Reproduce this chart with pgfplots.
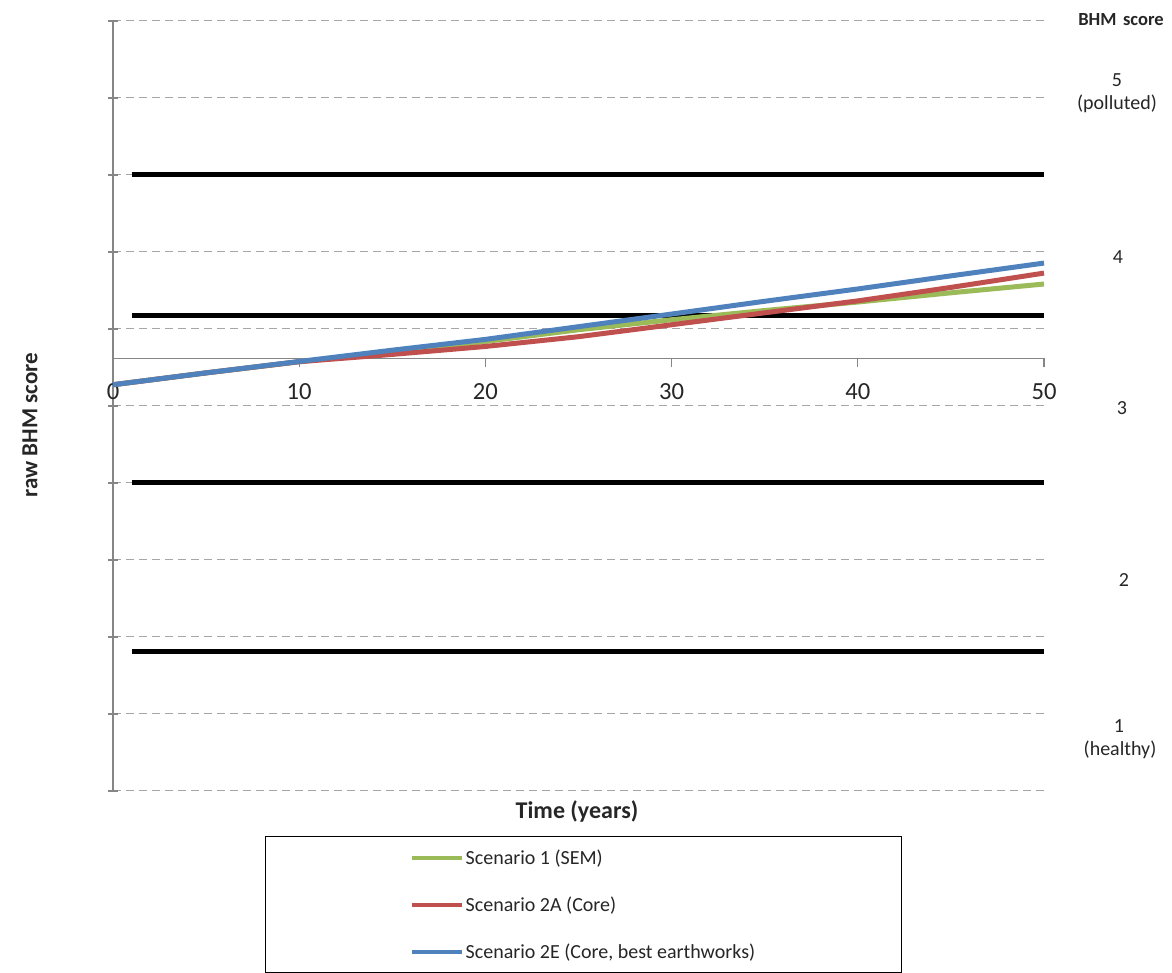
\documentclass[border=0pt]{standalone}
\usepackage{pgfplots}
\pgfplotsset{compat=1.18}
\usepackage{fontspec}
\setmainfont{Carlito}
\definecolor{sgreen}{HTML}{9BBB59}
\definecolor{sred}{HTML}{C0504D}
\definecolor{sblue}{HTML}{4F81BD}
\definecolor{axgray}{HTML}{868686}
\definecolor{gridgray}{HTML}{A6A6A6}
\definecolor{txt}{HTML}{262626}
\begin{document}
\begin{tikzpicture}
\useasboundingbox (-113pt,-182pt) rectangle (1059pt,791pt);
\begin{axis}[
  scale only axis, width=931pt, height=770pt,
  at={(0pt,0pt)}, anchor=south west,
  xmin=0, xmax=50, ymin=-5.62, ymax=4.38,
  axis x line=middle, axis y line=left,
  axis line style={draw=axgray, line width=1.3pt, -},
  xtick={0,10,20,30,40,50},
  ytick={-5.62,-4.62,-3.62,-2.62,-1.62,-0.62,0.38,1.38,2.38,3.38,4.38},
  yticklabels={},
  hide obscured x ticks=false,
  ymajorgrids,
  grid style={draw=gridgray, line width=1pt, dash pattern=on 8pt off 5pt},
  tick style={draw=axgray, line width=1.3pt},
  major tick length=9pt,
  xtick align=outside, ytick align=center,
  /pgf/number format/assume math mode=true,
  xticklabel style={font=\fontsize{24.6}{28}\selectfont, text=txt, yshift=-13pt},
  clip=false,
  legend style={at={(axis description cs:0.1633,-0.0584)}, anchor=north west,
    draw=black, line width=1.3pt, fill=white,
    inner xsep=144pt, inner ysep=11pt, row sep=27pt,
    font=\fontsize{20}{24}\selectfont, text=txt},
  legend cell align=left,
  legend image code/.code={\draw[#1, line width=4pt] (0pt,0pt) -- (50pt,0pt);},
]
\addplot[black, line width=5pt, forget plot] coordinates {(1,2.38) (50,2.38)};
\addplot[black, line width=5pt, forget plot] coordinates {(1,0.556) (50,0.556)};
\addplot[black, line width=5pt, forget plot] coordinates {(1,-1.62) (50,-1.62)};
\addplot[black, line width=5pt, forget plot] coordinates {(1,-3.81) (50,-3.81)};
\addplot[sgreen, line width=5pt] coordinates {
 (0,-0.344) (5,-0.19) (10,-0.045) (15,0.08) (20,0.218) (25,0.37) (30,0.50) (35,0.62) (40,0.73) (45,0.85) (50,0.964)};
\addlegendentry{Scenario 1 (SEM)}
\addplot[sred, line width=5pt] coordinates {
 (0,-0.344) (5,-0.19) (10,-0.045) (15,0.05) (20,0.153) (25,0.28) (30,0.435) (35,0.59) (40,0.745) (45,0.92) (50,1.106)};
\addlegendentry{Scenario 2A (Core)}
\addplot[sblue, line width=5pt] coordinates {
 (0,-0.344) (5,-0.19) (10,-0.042) (15,0.105) (20,0.245) (25,0.41) (30,0.574) (35,0.74) (40,0.90) (45,1.07) (50,1.236)};
\addlegendentry{Scenario 2E (Core, best earthworks)}
\end{axis}
\node[font=\fontsize{18.5}{22}\selectfont\bfseries, text=txt] at (1008pt,771pt) {BHM\hspace{0.35em}score};
\node[font=\fontsize{20}{24}\selectfont, text=txt] at (1004pt,711pt) {5};
\node[font=\fontsize{20}{24}\selectfont, text=txt] at (1004pt,687pt) {(polluted)};
\node[font=\fontsize{20}{24}\selectfont, text=txt] at (1005pt,534pt) {4};
\node[font=\fontsize{20}{24}\selectfont, text=txt] at (1009pt,383pt) {3};
\node[font=\fontsize{20}{24}\selectfont, text=txt] at (1011pt,211pt) {2};
\node[font=\fontsize{20}{24}\selectfont, text=txt] at (1006pt,65pt) {1};
\node[font=\fontsize{20}{24}\selectfont, text=txt] at (1007pt,41pt) {(healthy)};
\node[font=\fontsize{23}{27}\selectfont\bfseries, text=txt, rotate=90] at (-83pt,366pt) {raw BHM score};
\node[font=\fontsize{24}{28}\selectfont\bfseries, text=txt] at (464pt,-20pt) {Time (years)};
\end{tikzpicture}
\end{document}
